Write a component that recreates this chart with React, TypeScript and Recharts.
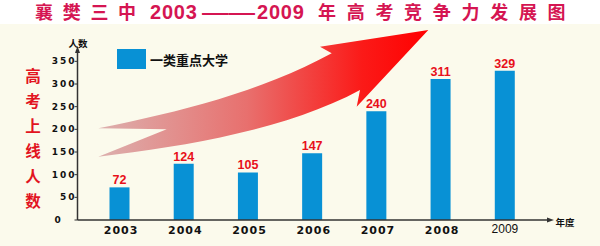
import React from 'react';
import { BarChart, Bar, XAxis, YAxis, Legend, LabelList } from 'recharts';

// 年份 / 一类重点大学上线人数
const years = ['2003', '2004', '2005', '2006', '2007', '2008', '2009'];
const students = [72, 124, 105, 147, 240, 311, 329];
const yTicks = [0, 50, 100, 150, 200, 250, 300, 350];
const seriesName = '一类重点大学';

const data = years.map((year, i) => ({ year, value: students[i] }));

const BLUE = '#0891d5';
const CJK = '"Noto Sans CJK SC", "DejaVu Sans", sans-serif';

const YearTick = (props: any) => {
  const { x, y, payload, index } = props;
  const last = index === years.length - 1;
  return (
    <text
      x={x + (last ? 0 : 1.5)}
      y={y + (last ? 12.5 : 14)}
      textAnchor="middle"
      fontFamily={last ? '"Liberation Sans", sans-serif' : '"DejaVu Sans", sans-serif'}
      fontWeight={last ? 'normal' : 'bold'}
      fontSize={last ? 12 : 11}
      letterSpacing={last ? 0 : 1}
      fill="#111"
    >
      {payload.value}
    </text>
  );
};

const CountTick = (props: any) => {
  const { x, y, payload } = props;
  const zero = payload.value === 0;
  return (
    <text
      x={zero ? x - 20 : x + 2}
      y={y + 3}
      textAnchor={zero ? 'start' : 'end'}
      fontFamily='"DejaVu Sans", sans-serif'
      fontWeight="bold"
      fontSize={9}
      letterSpacing={2}
      fill="#111"
    >
      {payload.value}
    </text>
  );
};

const renderLegend = (props: any) => {
  const item = (props.payload || [])[0];
  return (
    <div style={{ display: 'flex', alignItems: 'center' }}>
      <div style={{ width: 29, height: 20, background: BLUE }} />
      <span style={{ marginLeft: 4, fontFamily: CJK, fontWeight: 'bold', fontSize: 13, color: '#111', whiteSpace: 'nowrap' }}>
        {item ? item.value : seriesName}
      </span>
    </div>
  );
};

const Backdrop = () => (
  <svg width={600} height={246} style={{ position: 'absolute', left: 0, top: 0 }}>
    <defs>
      <linearGradient id="arrowFill" x1="98" y1="0" x2="428" y2="0" gradientUnits="userSpaceOnUse">
        <stop offset="0%" stopColor="#dcb0ae" />
        <stop offset="45%" stopColor="#e8706e" />
        <stop offset="80%" stopColor="#fb1a18" />
        <stop offset="100%" stopColor="#ff0000" />
      </linearGradient>
    </defs>
    <rect x={0} y={0} width={600} height={24} fill="#ffffff" />
    {/* 标题 */}
    <g fill="#d51552" fontFamily={'"Liberation Sans", "Noto Sans CJK SC", sans-serif'} fontWeight="bold">
      <text x={35} y={18.5} fontSize={18} letterSpacing={9.7} fontFamily={CJK}>襄樊三中</text>
      <text x={150} y={18.5} fontSize={20} letterSpacing={0.8}>2003</text>
      <text x={202} y={18.5} fontSize={20} textLength={53} lengthAdjust="spacingAndGlyphs">——</text>
      <text x={257} y={18.5} fontSize={20} letterSpacing={0.8}>2009</text>
      <text x={318} y={18.5} fontSize={18} letterSpacing={10.7} fontFamily={CJK}>年高考竞争力发展图</text>
    </g>
    {/* 红色箭头 */}
    <path
      d="M98.3,128.3 C180,112 260,92 331.7,53.3 L320,46.7 L428.3,30 L356.7,106.7 L360,90 C290,128 190,146 98.3,156.7 L166.7,129.3 Z"
      fill="url(#arrowFill)"
    />
    {/* 左侧竖排标题 */}
    {'高考上线人数'.split('').map((ch, i) => (
      <text key={ch} x={33} y={82 + i * 25} textAnchor="middle" fontFamily={CJK} fontWeight="bold" fontSize={15.5} fill="#e2141f">
        {ch}
      </text>
    ))}
    {/* 坐标轴箭头与单位 */}
    <path d="M77.5,46 L75,53 L80,53 Z" fill="#333" />
    <path d="M554,220 L547,217.5 L547,222.5 Z" fill="#333" />
    <text x={78} y={47} textAnchor="middle" fontFamily={CJK} fontWeight="bold" fontSize={9.5} fill="#111">人数</text>
    <text x={565} y={225.5} textAnchor="middle" fontFamily={CJK} fontWeight="bold" fontSize={9.5} fill="#111">年度</text>
  </svg>
);

export default function App() {
  return (
    <div style={{ position: 'absolute', left: 0, top: 0, width: 600, height: 246, background: '#fbfaec', overflow: 'hidden' }}>
      <Backdrop />
      <div style={{ position: 'absolute', left: 0, top: 0 }}>
        <BarChart width={600} height={246} data={data} margin={{ top: 50, right: 52, bottom: 6, left: 37.5 }}>
          <XAxis
            dataKey="year"
            height={20}
            padding={{ left: 10, right: 11 }}
            axisLine={{ stroke: '#333', strokeWidth: 1.5 }}
            tickLine={false}
            tickSize={0}
            tickMargin={0}
            interval={0}
            tick={<YearTick />}
          />
          <YAxis
            width={40}
            domain={[0, 375]}
            ticks={yTicks}
            interval={0}
            axisLine={{ stroke: '#333', strokeWidth: 1.5 }}
            tickLine={{ stroke: '#333' }}
            tickSize={3}
            tickMargin={0}
            tick={<CountTick />}
          />
          <Legend
            layout="horizontal"
            verticalAlign="middle"
            align="center"
            content={renderLegend}
            wrapperStyle={{ left: 117, top: 49, width: 'auto' }}
          />
          <Bar dataKey="value" name={seriesName} fill={BLUE} barSize={20} isAnimationActive={false}>
            <LabelList
              dataKey="value"
              position="top"
              offset={3}
              fill="#e8101a"
              fontSize={12.5}
              fontWeight="bold"
              fontFamily='"Liberation Sans", sans-serif'
            />
          </Bar>
        </BarChart>
      </div>
    </div>
  );
}
